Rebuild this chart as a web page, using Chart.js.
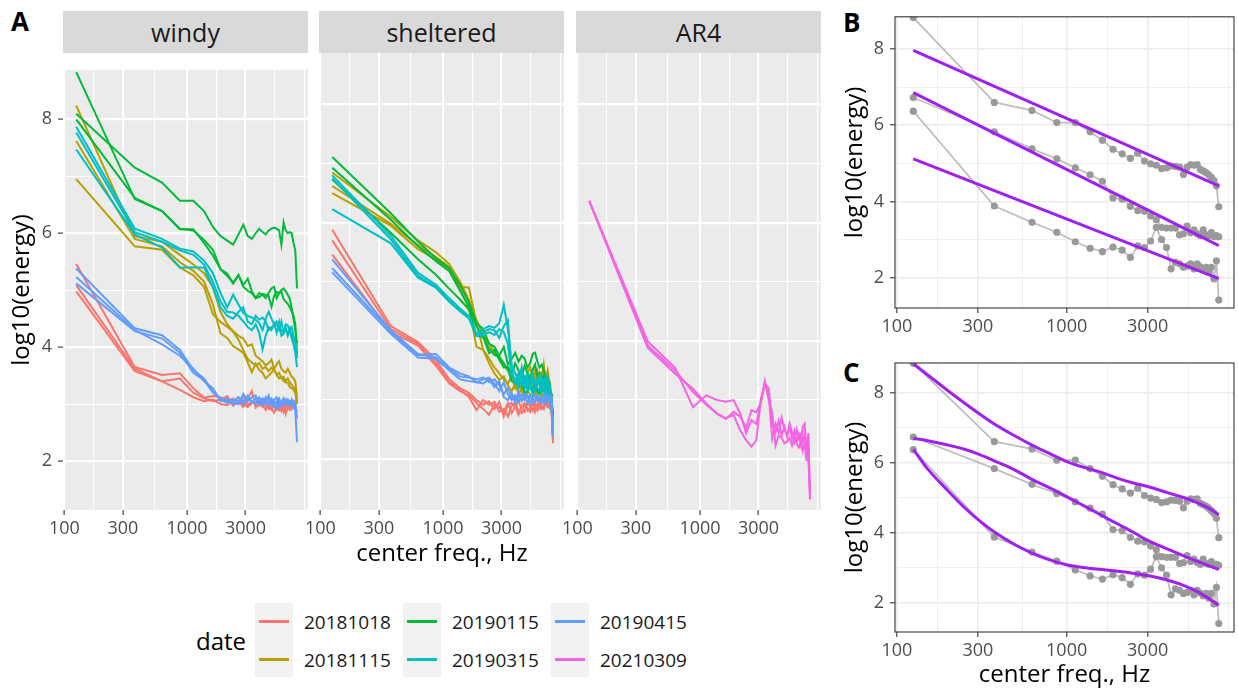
<!DOCTYPE html>
<html>
<head>
<meta charset="utf-8">
<title>energy spectra</title>
<script src="https://cdn.jsdelivr.net/npm/chart.js@4.4.1/dist/chart.umd.min.js"></script>
<style>
  html, body { margin: 0; background: #fff; }
  #fig { position: relative; width: 1238px; height: 690px; overflow: hidden; font-family: 'Open Sans', sans-serif; }
  #fig canvas { position: absolute; }
  .strip { position: absolute; top: 11px; height: 42px; width: 245px; background: #d9d9d9; color: #1a1a1a; font-size: 25px; line-height: 42px; text-align: center; }
  .tag { position: absolute; font-size: 26px; font-weight: 700; line-height: 26px; color: #000; }
  .txt { position: absolute; white-space: nowrap; color: #000; }
  .keybox { position: absolute; top: 603px; width: 38px; height: 74px; background: #f2f2f2; }
  .key { position: absolute; width: 30px; height: 3px; }
  .lab { position: absolute; font-size: 19px; line-height: 20px; color: #1a1a1a; white-space: nowrap; }
</style>
</head>
<body>
<div id="fig">
  <div class="tag" style="left:11px;top:8px">A</div>
  <div class="tag" style="left:843px;top:9px">B</div>
  <div class="tag" style="left:843px;top:359px">C</div>

  <div class="strip" style="left:63px">windy</div>
  <div class="strip" style="left:319px">sheltered</div>
  <div class="strip" style="left:576px">AR4</div>

  <canvas id="windy" width="308" height="497" style="left:0;top:53px"></canvas>
  <canvas id="sheltered" width="265" height="497" style="left:299px;top:53px"></canvas>
  <canvas id="ar4" width="265" height="497" style="left:556px;top:53px"></canvas>
  <canvas id="panelB" width="408" height="343" style="left:830px;top:0"></canvas>
  <canvas id="panelC" width="408" height="347" style="left:830px;top:343px"></canvas>

  <div class="txt" style="left:242px;top:537px;width:400px;text-align:center;font-size:24px;line-height:30px">center freq., Hz</div>

  <div class="txt" style="left:196px;top:626px;font-size:24px;line-height:30px">date</div>
  <div id="legend"></div>
</div>

<script>
// frequency bins (Hz)
const FREQ = [125, 375, 625, 875, 1125, 1375, 1625, 1875, 2125, 2375, 2625, 2875, 3125, 3375, 3625, 3875,
              4125, 4375, 4625, 4875, 5125, 5375, 5625, 5875, 6125, 6375, 6625, 6875, 7125, 7375, 7625, 7875];

// axis breaks
const X_MAJOR = [100, 300, 1000, 3000];
const X_BREAKS = [100, 173.2, 300, 547.7, 1000, 1732, 3000, 5196, 9000];
const Y_MAJOR = [2, 4, 6, 8];
const Y_BREAKS = [2, 3, 4, 5, 6, 7, 8];
const X_MIN = 97.5, X_MAX = 9680;

const DATES = ['20181018', '20181115', '20190115', '20190315', '20190415', '20210309'];
const DATE_COLORS = ['#F8766D', '#B79F00', '#00BA38', '#00BFC4', '#619CFF', '#F564E3'];

// example spectra shown grey in B and C (also part of panel A)
const GRAY_TOP = [8.83, 6.60, 6.39, 6.07, 6.07, 5.83, 5.61, 5.37, 5.25, 5.13, 5.27, 5.06, 4.99, 4.95, 4.86, 4.88,
                  4.93, 4.92, 4.90, 4.71, 4.90, 4.97, 4.95, 4.97, 4.84, 4.80, 4.76, 4.70, 4.63, 4.55, 4.41, 3.86];
const GRAY_MID = [6.73, 5.83, 5.38, 5.12, 4.88, 4.70, 4.53, 4.09, 4.06, 3.87, 3.76, 3.74, 3.62, 3.52, 3.32, 3.30,
                  3.30, 3.30, 3.12, 3.15, 3.35, 3.18, 3.25, 3.15, 3.10, 3.25, 3.12, 3.10, 3.18, 3.08, 3.10, 3.07];
const GRAY_LOW = [6.37, 3.88, 3.45, 3.19, 2.94, 2.77, 2.68, 2.80, 2.72, 2.53, 2.83, 2.79, 2.96, 3.32, 3.00, 2.79,
                  2.23, 2.40, 2.36, 2.27, 2.30, 2.36, 2.23, 2.36, 2.28, 2.20, 2.27, 2.14, 2.27, 1.97, 2.44, 1.41];

// windy
const W_R1 = [5.46, 3.65, 3.51, 3.54, 3.28, 3.11, 3.14, 3.12, 3.05, 3.10, 3.00, 3.15, 2.98, 3.05, 3.00, 3.08,
              2.95, 3.02, 2.92, 3.05, 2.95, 2.90, 3.00, 2.88, 2.98, 3.05, 2.92, 3.00, 3.06, 2.95, 3.05, 3.08];
const W_R2 = [5.09, 3.62, 3.40, 3.45, 3.20, 3.10, 3.05, 3.08, 3.14, 2.97, 3.05, 2.95, 3.10, 3.23, 2.94, 3.00,
              3.08, 2.98, 2.94, 2.90, 3.00, 2.92, 2.89, 2.95, 2.86, 2.98, 3.00, 2.90, 2.94, 3.02, 2.98, 3.10];
const W_R3 = [4.98, 3.58, 3.40, 3.25, 3.12, 3.05, 3.08, 3.00, 2.98, 3.05, 3.12, 3.00, 2.95, 3.02, 3.08, 2.97,
              3.00, 2.90, 3.00, 2.92, 2.85, 2.95, 2.90, 2.98, 3.02, 2.83, 2.95, 3.00, 2.92, 3.05, 3.00, 3.02];
const W_Y1 = [8.24, 5.95, 5.85, 5.62, 5.45, 5.30, 5.05, 4.62, 4.40, 4.28, 4.20, 4.15, 4.02, 4.05, 3.85, 3.80,
              3.75, 3.68, 3.72, 3.78, 3.62, 3.70, 3.75, 3.62, 3.58, 3.55, 3.62, 3.55, 3.48, 3.45, 3.40, 3.12];
const W_Y2 = [7.62, 5.90, 5.77, 5.49, 5.34, 5.15, 4.75, 4.24, 4.16, 4.02, 3.96, 3.90, 3.73, 3.56, 3.71, 3.60,
              3.55, 3.45, 3.50, 3.55, 3.62, 3.51, 3.45, 3.48, 3.40, 3.38, 3.37, 3.30, 3.28, 3.25, 3.20, 3.05];
const W_Y3 = [6.95, 5.77, 5.71, 5.40, 5.26, 5.06, 4.58, 4.44, 4.36, 4.27, 4.13, 3.95, 3.79, 3.73, 3.68, 3.72,
              3.62, 3.65, 3.58, 3.64, 3.60, 3.52, 3.55, 3.45, 3.48, 3.40, 3.45, 3.38, 3.34, 3.30, 3.25, 3.00];
const W_G2 = [8.10, 7.15, 6.89, 6.57, 6.57, 6.39, 6.11, 5.95, 5.87, 5.80, 5.98, 6.15, 5.95, 5.90, 6.00, 6.08,
              6.02, 5.98, 6.05, 6.08, 6.10, 6.08, 6.05, 5.80, 6.19, 6.05, 6.00, 6.02, 6.00, 5.83, 5.70, 5.03];
const W_G3 = [8.00, 6.62, 6.39, 6.08, 6.05, 5.88, 5.71, 5.37, 5.29, 5.12, 5.26, 5.09, 5.20, 4.98, 4.86, 4.95,
              4.92, 4.86, 4.95, 5.03, 5.06, 4.86, 4.95, 5.00, 5.03, 4.98, 4.92, 4.85, 4.69, 4.50, 4.30, 4.07];
const W_C1 = [7.87, 6.08, 5.90, 5.73, 5.68, 5.52, 5.30, 4.95, 4.70, 4.92, 4.75, 4.60, 4.55, 4.52, 4.48, 4.42,
              4.30, 4.50, 4.62, 4.50, 4.40, 4.45, 4.35, 4.28, 4.30, 4.40, 4.38, 4.30, 4.35, 4.20, 4.10, 3.85];
const W_C2 = [7.77, 6.02, 5.85, 5.70, 5.62, 5.45, 5.15, 4.80, 4.62, 4.61, 4.55, 4.45, 4.35, 4.30, 4.40, 4.25,
              3.96, 4.20, 4.35, 4.30, 4.41, 4.25, 4.44, 4.20, 4.24, 4.30, 4.25, 4.33, 4.15, 4.05, 3.90, 3.65];
const W_C3 = [7.47, 5.98, 5.75, 5.40, 5.40, 5.40, 5.05, 4.70, 4.55, 4.50, 4.62, 4.70, 4.45, 4.40, 4.55, 4.48,
              4.52, 4.45, 4.30, 4.35, 4.38, 4.40, 4.30, 4.45, 4.25, 4.35, 4.20, 4.28, 4.22, 4.10, 4.00, 3.80];
const W_B1 = [5.38, 4.33, 4.21, 3.95, 3.60, 3.45, 3.22, 3.10, 3.05, 3.00, 3.12, 3.05, 3.15, 3.02, 3.10, 3.08,
              2.98, 3.12, 3.00, 3.10, 3.05, 2.95, 3.08, 3.02, 3.10, 3.00, 3.05, 2.98, 3.08, 3.00, 2.95, 2.85];
const W_B2 = [5.23, 4.30, 4.05, 3.85, 3.62, 3.40, 3.28, 3.05, 3.10, 3.02, 3.00, 3.18, 3.05, 3.12, 3.15, 3.00,
              3.10, 3.05, 3.15, 2.98, 3.08, 3.12, 2.95, 3.05, 3.00, 3.08, 2.98, 3.05, 3.00, 3.05, 3.02, 2.75];
const W_B3 = [5.12, 4.28, 4.15, 3.90, 3.55, 3.42, 3.20, 3.08, 3.02, 3.08, 3.05, 3.00, 3.10, 3.05, 3.00, 3.12,
              3.02, 3.00, 3.08, 3.05, 2.95, 3.05, 3.10, 2.95, 3.05, 3.02, 3.08, 3.00, 2.98, 2.95, 2.90, 2.33];

// sheltered
const S_R1 = [5.88, 4.25, 3.98, 3.68, 3.35, 3.20, 3.12, 3.00, 2.92, 2.98, 2.85, 2.97, 2.72, 2.92, 2.95, 2.88,
              2.75, 2.90, 2.95, 2.82, 2.88, 2.95, 2.80, 2.92, 2.98, 2.85, 2.90, 3.00, 2.95, 2.88, 3.02, 2.27];
const S_R2 = [5.70, 4.20, 3.95, 3.62, 3.31, 3.17, 3.05, 2.83, 3.00, 2.92, 2.97, 2.80, 2.85, 2.72, 2.90, 2.95,
              2.82, 2.78, 2.92, 2.85, 2.80, 2.98, 2.88, 2.82, 2.95, 2.90, 2.85, 2.98, 2.92, 2.95, 2.90, 2.35];
const S_R3 = [5.46, 4.15, 3.92, 3.58, 3.28, 3.15, 3.08, 2.95, 2.85, 2.75, 2.92, 2.88, 2.80, 2.95, 2.78, 2.90,
              2.98, 2.85, 2.80, 2.95, 2.90, 2.82, 2.95, 2.88, 2.85, 2.98, 3.00, 2.92, 2.88, 3.05, 2.95, 2.30];
const S_Y1 = [6.62, 5.98, 5.62, 5.42, 5.25, 4.92, 4.90, 4.30, 3.85, 3.62, 3.45, 3.34, 3.40, 3.25, 3.15, 3.28,
              3.10, 3.20, 3.05, 3.15, 3.10, 3.02, 3.20, 3.08, 3.00, 3.10, 3.05, 3.25, 3.00, 2.95, 2.85, 2.55];
const S_Y2 = [6.50, 5.95, 5.55, 5.38, 5.20, 4.88, 4.55, 3.90, 3.85, 3.70, 3.55, 3.45, 3.35, 3.28, 3.40, 3.20,
              3.30, 3.15, 3.35, 3.25, 3.40, 3.30, 3.55, 3.25, 3.45, 3.35, 3.60, 3.30, 3.40, 3.20, 2.95, 2.60];
const S_Y3 = [6.85, 6.10, 5.70, 5.50, 5.30, 5.00, 4.70, 4.35, 4.10, 3.95, 3.80, 3.70, 3.60, 3.50, 3.55, 3.45,
              3.40, 3.50, 3.35, 3.45, 3.55, 3.40, 3.35, 3.50, 3.30, 3.45, 3.40, 3.35, 3.50, 3.30, 3.10, 2.70];
const S_G1 = [7.11, 6.16, 5.68, 5.40, 5.23, 4.95, 4.65, 4.30, 4.20, 3.95, 3.90, 3.75, 3.90, 3.60, 3.70, 3.80,
              3.65, 3.75, 3.70, 3.55, 3.62, 3.78, 3.80, 3.65, 3.55, 3.60, 3.50, 3.40, 3.35, 3.30, 3.05, 2.75];
const S_G2 = [6.93, 6.05, 5.60, 5.35, 5.18, 4.85, 4.58, 4.24, 4.07, 3.79, 3.85, 3.68, 3.55, 3.56, 3.45, 3.62,
              3.50, 3.40, 3.58, 3.45, 3.38, 3.52, 3.60, 3.40, 3.45, 3.30, 3.40, 3.25, 3.35, 3.15, 3.00, 2.70];
const S_C1 = [6.80, 5.78, 5.15, 4.95, 4.72, 4.55, 4.42, 4.12, 4.20, 4.25, 4.22, 4.30, 4.61, 4.21, 3.60, 3.45,
              3.30, 3.55, 3.20, 3.35, 3.25, 3.10, 3.30, 3.20, 3.15, 3.40, 3.25, 3.15, 3.35, 3.20, 3.00, 2.45];
const S_C2 = [6.75, 5.72, 5.10, 4.92, 4.68, 4.52, 4.40, 4.10, 4.15, 4.20, 4.18, 4.05, 4.25, 4.35, 3.50, 3.30,
              3.45, 3.25, 3.38, 3.15, 3.30, 3.45, 3.20, 3.35, 3.25, 3.15, 3.30, 3.40, 3.20, 3.10, 3.05, 2.42];
const S_C3 = [6.23, 5.65, 5.07, 4.90, 4.66, 4.50, 4.38, 4.08, 4.10, 4.15, 4.10, 4.20, 4.15, 3.95, 3.40, 3.35,
              3.20, 3.40, 3.30, 3.45, 3.20, 3.35, 3.15, 3.30, 3.40, 3.20, 3.25, 3.10, 3.30, 3.25, 3.00, 2.40];
const S_B1 = [5.38, 4.18, 3.78, 3.72, 3.52, 3.40, 3.38, 3.35, 3.38, 3.30, 3.35, 3.25, 3.10, 3.20, 3.05, 3.02,
              3.12, 2.98, 3.05, 3.08, 2.95, 3.00, 3.10, 2.98, 3.02, 3.05, 2.95, 3.08, 3.00, 2.98, 3.05, 2.40];
const S_B2 = [5.23, 4.16, 3.76, 3.78, 3.55, 3.45, 3.40, 3.30, 3.35, 3.38, 3.28, 3.15, 3.30, 3.10, 3.00, 3.08,
              2.98, 3.05, 3.10, 2.95, 3.05, 3.02, 2.98, 3.08, 3.00, 2.95, 3.10, 3.00, 3.02, 3.05, 2.98, 2.45];
const S_B3 = [5.16, 4.12, 3.72, 3.70, 3.50, 3.35, 3.32, 3.30, 3.28, 3.35, 3.22, 3.32, 3.05, 3.00, 3.12, 2.95,
              3.05, 3.10, 3.00, 3.05, 3.08, 2.95, 3.00, 3.05, 2.98, 3.02, 3.00, 2.95, 3.08, 2.98, 3.02, 2.38];

// AR4
const P2 = [6.37, 3.99, 3.55, 2.88, 3.08, 3.00, 2.97, 3.00, 2.77, 2.44, 2.66, 2.60, 2.95, 3.28, 3.10, 2.35,
            2.60, 2.45, 2.70, 2.50, 2.40, 2.55, 2.35, 2.48, 2.30, 2.42, 2.25, 2.55, 2.60, 2.15, 2.30, 1.32];
const P3 = [6.37, 3.92, 3.50, 3.14, 2.92, 2.77, 2.69, 2.75, 2.49, 2.32, 2.21, 2.32, 3.00, 3.28, 3.20, 2.60,
            2.45, 2.65, 2.40, 2.55, 2.38, 2.60, 2.45, 2.30, 2.50, 2.35, 2.42, 2.28, 2.45, 2.20, 2.05, 1.38];

// fits: B linear (end points), C smooth
const FIT_X_B = [125, 7875];
const FIT_B_TOP = [7.97, 4.41];
const FIT_B_MID = [6.86, 2.84];
const FIT_B_LOW = [5.12, 1.97];

const FIT_X_C = [125, 150, 200, 250, 300, 375, 500, 625, 800, 1000, 1250, 1600, 2000, 2500, 3000, 4000, 5000, 6000, 7000, 7875];
const FIT_C_TOP = [8.82, 8.52, 8.05, 7.70, 7.42, 7.10, 6.75, 6.50, 6.25, 6.03, 5.87, 5.72, 5.55, 5.41, 5.32, 5.13, 4.99, 4.84, 4.68, 4.51];
const FIT_C_MID = [6.69, 6.63, 6.50, 6.38, 6.25, 6.05, 5.78, 5.52, 5.27, 5.03, 4.78, 4.50, 4.25, 4.00, 3.78, 3.52, 3.32, 3.17, 3.05, 2.95];
const FIT_C_LOW = [6.38, 5.85, 5.20, 4.72, 4.38, 4.02, 3.65, 3.42, 3.22, 3.09, 3.01, 2.95, 2.90, 2.84, 2.78, 2.64, 2.48, 2.30, 2.10, 1.93];

// facet content: [values, date index]
const WINDY = [[W_R1, 0], [W_R2, 0], [W_R3, 0], [W_Y1, 1], [W_Y2, 1], [W_Y3, 1],
               [GRAY_TOP, 2], [W_G2, 2], [W_G3, 2], [W_C1, 3], [W_C2, 3], [W_C3, 3],
               [W_B1, 4], [W_B2, 4], [W_B3, 4]];
const SHELTERED = [[S_R1, 0], [S_R2, 0], [S_R3, 0], [S_Y1, 1], [S_Y2, 1], [S_Y3, 1],
                   [S_G1, 2], [S_G2, 2], [GRAY_MID, 2], [S_C1, 3], [S_C2, 3], [S_C3, 3],
                   [S_B1, 4], [S_B2, 4], [S_B3, 4]];
const AR4 = [[GRAY_LOW, 5], [P2, 5], [P3, 5]];

Chart.defaults.font.family = "'Open Sans', sans-serif";

const near = (v, list) => list.some(m => Math.abs(m - v) < 1e-6);
const pts = (xs, ys) => xs.map((x, i) => ({ x, y: ys[i] }));

const panelPlugin = {
  id: 'panel',
  beforeDraw(chart, args, opts) {
    const { ctx, chartArea: a } = chart;
    ctx.save();
    ctx.fillStyle = opts.bg;
    ctx.fillRect(a.left, a.top, a.width, a.height);
    ctx.restore();
  },
  afterDraw(chart, args, opts) {
    if (!opts.frame) return;
    const { ctx, chartArea: a } = chart;
    ctx.save();
    ctx.strokeStyle = opts.frame;
    ctx.lineWidth = 1.1;
    ctx.strokeRect(a.left, a.top, a.width, a.height);
    ctx.restore();
  }
};

function xScale(o) {
  return {
    type: 'logarithmic', min: X_MIN, max: X_MAX, bounds: 'data',
    afterBuildTicks: s => { s.ticks = X_BREAKS.map(v => ({ value: v })); },
    afterFit: s => { s.height = o.height; },
    border: { display: false },
    grid: {
      color: o.grid,
      lineWidth: c => near(c.tick.value, X_MAJOR) ? o.major : o.minor,
      tickLength: 5, tickWidth: 1.1,
      tickColor: c => near(c.tick.value, X_MAJOR) ? '#333333' : 'rgba(0,0,0,0)'
    },
    ticks: {
      autoSkip: false, maxRotation: 0, minRotation: 0, padding: 3,
      color: '#4d4d4d', font: { size: 18 },
      callback: v => near(v, X_MAJOR) ? String(v) : ''
    },
    title: o.title ? { display: true, text: o.title, color: '#000', font: { size: 24 }, padding: { top: 0, bottom: 0 } }
                   : { display: false }
  };
}

function yScale(o) {
  return {
    type: 'linear', min: o.min, max: o.max, bounds: 'data',
    afterBuildTicks: s => { s.ticks = Y_BREAKS.map(v => ({ value: v })); },
    afterFit: s => { s.width = o.width; },
    border: { display: false },
    grid: {
      color: o.grid,
      lineWidth: c => near(c.tick.value, Y_MAJOR) ? o.major : o.minor,
      drawTicks: o.labels, tickLength: 5, tickWidth: 1.1,
      tickColor: c => near(c.tick.value, Y_MAJOR) ? '#333333' : 'rgba(0,0,0,0)'
    },
    ticks: {
      display: o.labels, padding: 6, color: '#4d4d4d', font: { size: 18 },
      callback: v => near(v, Y_MAJOR) ? String(v) : ''
    },
    title: o.title ? { display: true, text: 'log10(energy)', color: '#000', font: { size: 24 }, padding: { top: o.titlePad, bottom: 0 } }
                   : { display: false }
  };
}

function makeChart(id, datasets, o) {
  return new Chart(document.getElementById(id), {
    type: 'line',
    data: { datasets },
    options: {
      responsive: false, animation: false, devicePixelRatio: 1,
      layout: { padding: o.padding || 0 },
      plugins: { legend: { display: false }, tooltip: { enabled: false }, panel: { bg: o.bg, frame: o.frame } },
      scales: { x: xScale(o.x), y: yScale(o.y) }
    },
    plugins: [panelPlugin]
  });
}

function facetSets(list) {
  return list.map(([vals, d], i) => ({
    data: pts(FREQ, vals),
    borderColor: DATE_COLORS[d], borderWidth: 2, pointRadius: 0, fill: false,
    order: list.length - i
  }));
}

const gridA = { grid: '#ffffff', major: 2.2, minor: 1.1 };
const yA = { min: 1.14, max: 8.87 };

makeChart('windy', facetSets(WINDY), {
  bg: '#ebebeb',
  x: { ...gridA, height: 40 },
  y: { ...gridA, ...yA, width: 63, labels: true, title: true, titlePad: 7.6 }
});
makeChart('sheltered', facetSets(SHELTERED), {
  bg: '#ebebeb',
  x: { ...gridA, height: 40 },
  y: { ...gridA, ...yA, width: 20, labels: false }
});
makeChart('ar4', facetSets(AR4), {
  bg: '#ebebeb',
  x: { ...gridA, height: 40 },
  y: { ...gridA, ...yA, width: 20, labels: false }
});

function exampleSets(fitX, fits, smooth) {
  const grays = [GRAY_TOP, GRAY_MID, GRAY_LOW];
  const lines = grays.map(v => ({
    data: pts(FREQ, v), borderColor: '#bfbfbf', borderWidth: 1.8, pointRadius: 0, order: 3
  }));
  const dots = grays.map(v => ({
    data: pts(FREQ, v), showLine: false, pointRadius: 3.6, pointBackgroundColor: '#999999',
    pointBorderWidth: 0, order: 2
  }));
  const fitLines = fits.map(v => ({
    data: pts(fitX, v), borderColor: '#a020f0', borderWidth: 3, pointRadius: 0, order: 1,
    cubicInterpolationMode: smooth ? 'monotone' : 'default'
  }));
  return [...lines, ...dots, ...fitLines];
}

const gridBW = { grid: '#ebebeb', major: 1.6, minor: 0.8 };

makeChart('panelB', exampleSets(FIT_X_B, [FIT_B_TOP, FIT_B_MID, FIT_B_LOW], false), {
  bg: '#ffffff', frame: '#333333', padding: { top: 11, right: 1, left: 0, bottom: 0 },
  x: { ...gridBW, height: 35 },
  y: { ...gridBW, min: 1.20, max: 8.85, width: 65, labels: true, title: true, titlePad: 10.6 }
});
makeChart('panelC', exampleSets(FIT_X_C, [FIT_C_TOP, FIT_C_MID, FIT_C_LOW], true), {
  bg: '#ffffff', frame: '#333333', padding: { top: 20, right: 1, left: 0, bottom: 0 },
  x: { ...gridBW, height: 58, title: 'center freq., Hz' },
  y: { ...gridBW, min: 1.17, max: 8.84, width: 65, labels: true, title: true, titlePad: 10.6 }
});

// legend (three columns, two rows, filled by column)
const legend = document.getElementById('legend');
const COL_LEFT = [255, 403, 551];
const ROW_MID = [621, 659];
DATES.forEach((d, i) => {
  const col = Math.floor(i / 2), row = i % 2;
  if (row === 0) {
    const box = document.createElement('div');
    box.className = 'keybox';
    box.style.left = COL_LEFT[col] + 'px';
    legend.appendChild(box);
  }
  const key = document.createElement('div');
  key.className = 'key';
  key.style.left = (COL_LEFT[col] + 4) + 'px';
  key.style.top = (ROW_MID[row] - 1.5) + 'px';
  key.style.background = DATE_COLORS[i];
  legend.appendChild(key);
  const lab = document.createElement('div');
  lab.className = 'lab';
  lab.style.left = (COL_LEFT[col] + 49) + 'px';
  lab.style.top = (ROW_MID[row] - 9.5) + 'px';
  lab.textContent = d;
  legend.appendChild(lab);
});
</script>
</body>
</html>
